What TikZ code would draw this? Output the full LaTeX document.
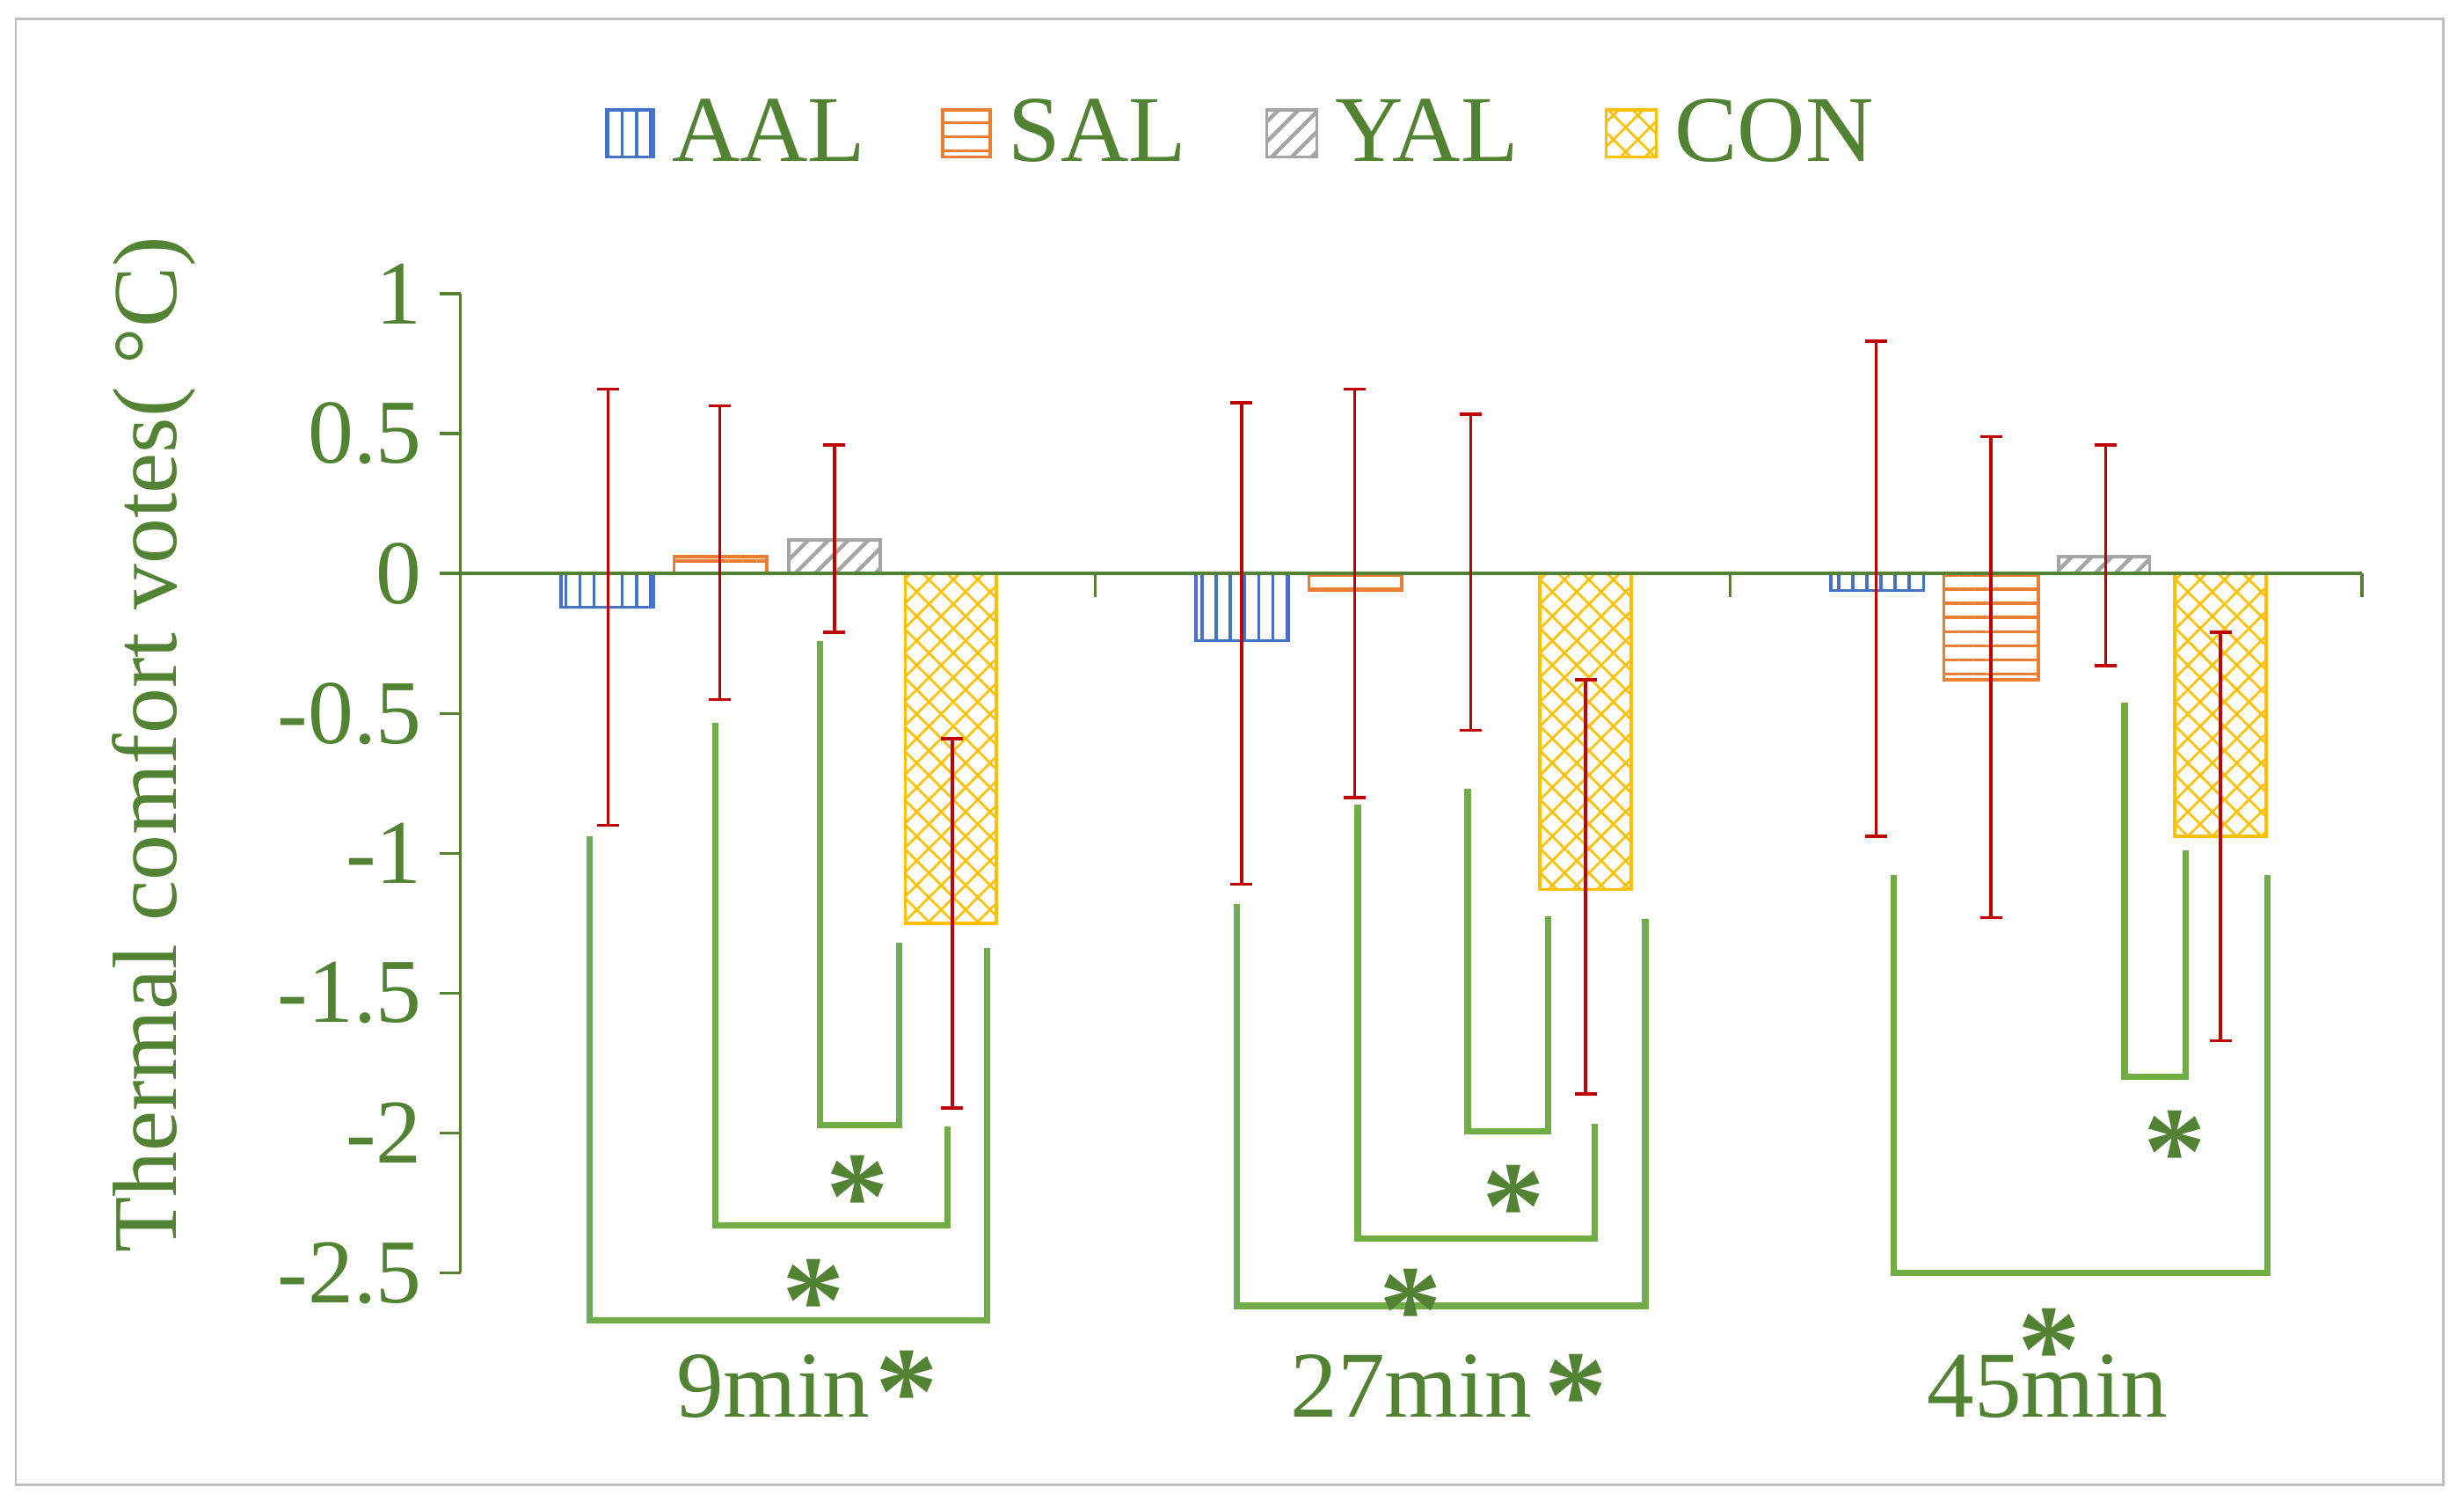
\documentclass[tikz,border=0pt]{standalone}
\usepackage{fontspec}
\setmainfont{Liberation Serif}
\usetikzlibrary{patterns.meta}
\definecolor{tg}{HTML}{548235}
\definecolor{bg}{HTML}{70AD47}
\definecolor{cA}{HTML}{4472C4}
\definecolor{cS}{HTML}{ED7D31}
\definecolor{cY}{HTML}{A5A5A5}
\definecolor{cC}{HTML}{FFC000}
\definecolor{er}{HTML}{C00000}
\tikzset{
 aal/.style={draw=cA,line width=2pt,pattern={Lines[angle=90,distance=9pt,line width=2pt]},pattern color=cA},
 sal/.style={draw=cS,line width=2pt,pattern={Lines[angle=0,distance=9pt,line width=2pt]},pattern color=cS},
 yal/.style={draw=cY,line width=2pt,pattern={Lines[angle=45,distance=9pt,line width=2.5pt]},pattern color=cY},
 con/.style={draw=cC,line width=2pt,pattern={Hatch[angle=45,distance=11pt,line width=1.5pt]},pattern color=cC},
 errb/.style={draw=er,line width=2pt},
 brk/.style={draw=bg,line width=4pt},
 star/.style={text=tg,font=\fontsize{80}{80}\selectfont\bfseries},
 tick/.style={text=tg,font=\fontsize{58}{58}\selectfont,anchor=east},
 lab/.style={text=tg,font=\fontsize{60}{60}\selectfont},
}
\newcommand{\mybar}[4]{\draw[#1] (#2,365) rectangle (#3,{365-178*(#4)});}
\newcommand{\eb}[3]{\draw[errb] (#1,{365-178*(#2)}) -- (#1,{365-178*(#3)});
 \draw[errb] (#1-7,{365-178*(#2)}) -- (#1+7,{365-178*(#2)});
 \draw[errb] (#1-7,{365-178*(#3)}) -- (#1+7,{365-178*(#3)});}
\begin{document}
\begin{tikzpicture}[x=1pt,y=-1pt]
\useasboundingbox (0,0) rectangle (1568,960);
\draw[line width=1.5pt,draw=black!25] (10,12) rectangle (1555,945);
% axes
\draw[tg,line width=2pt] (293,187) -- (293,810);
\foreach \v/\t in {1/1,0.5/0.5,0/0,-0.5/-0.5,-1/-1,-1.5/-1.5,-2/-2,-2.5/-2.5}{
 \draw[tg,line width=2pt] (280,{365-178*\v}) -- (293,{365-178*\v});
 \node[tick] at (272,{365-178*\v}) {\t};}
\node[text=tg,font=\fontsize{58}{58}\selectfont,rotate=90] (yl) at (98,474) {Thermal comfort votes( °C)};
% bars
\mybar{aal}{357}{416}{-0.12}\mybar{sal}{429}{488}{0.06}\mybar{yal}{502}{560}{0.12}\mybar{con}{576}{634}{-1.25}
\mybar{aal}{761}{820}{-0.24}\mybar{sal}{833}{892}{-0.06}\mybar{con}{980}{1038}{-1.13}
\mybar{aal}{1165}{1224}{-0.06}\mybar{sal}{1237}{1297}{-0.38}\mybar{yal}{1310}{1368}{0.06}\mybar{con}{1384}{1442}{-0.94}
\draw[tg,line width=2pt] (293,365) -- (1503,365);
\foreach \x in {697,1101,1503}{\draw[tg,line width=2pt] (\x,365) -- (\x,380);}
% error bars
\eb{387}{0.66}{-0.9}\eb{458}{0.6}{-0.45}\eb{531}{0.46}{-0.21}\eb{606}{-0.59}{-1.91}
\eb{790}{0.61}{-1.11}\eb{862}{0.66}{-0.8}\eb{936}{0.57}{-0.56}\eb{1009}{-0.38}{-1.86}
\eb{1194}{0.83}{-0.94}\eb{1267}{0.49}{-1.23}\eb{1340}{0.46}{-0.33}\eb{1413}{-0.21}{-1.67}
% brackets
\draw[brk] (522,408) -- (522,716) -- (572,716) -- (572,600);
\draw[brk] (455,460) -- (455,780) -- (603,780) -- (603,717);
\draw[brk] (375,532) -- (375,840) -- (628,840) -- (628,603);
\draw[brk] (934,502) -- (934,720) -- (985,720) -- (985,583);
\draw[brk] (864,512) -- (864,788) -- (1015,788) -- (1015,715);
\draw[brk] (787,575) -- (787,831) -- (1047,831) -- (1047,585);
\draw[brk] (1352,447) -- (1352,685) -- (1391,685) -- (1391,541);
\draw[brk] (1205,557) -- (1205,810) -- (1443,810) -- (1443,557);
\foreach \x/\y in {546/762,518/828,577/886,963/768,898/834,1003/888,1384/733,1304/859}{\node[star] at (\x,\y) {*};}
% group labels
\node[lab] (g1) at (492,882) {9min};
\node[lab] (g2) at (898,882) {27min};
\node[lab] (g3) at (1303,882) {45min};
% legend
\draw[aal] (386,70) rectangle (416,100); \node[lab,anchor=west] (la) at (424,83) {AAL};
\draw[sal] (600,70) rectangle (630,100); \node[lab,anchor=west] (ls) at (638,83) {SAL};
\draw[yal] (806,70) rectangle (838,100); \node[lab,anchor=west] (ly) at (846,83) {YAL};
\draw[con] (1022,70) rectangle (1054,100); \node[lab,anchor=west] (lc) at (1062,83) {CON};
\end{tikzpicture}
\end{document}
